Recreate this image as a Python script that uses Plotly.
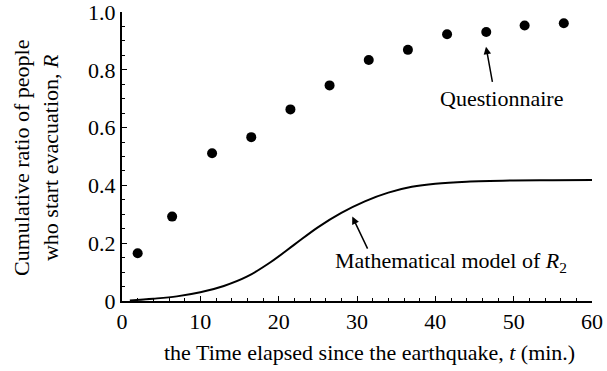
import plotly.graph_objects as go

# Questionnaire data (time in min, cumulative ratio)
q_t = [2.0, 6.4, 11.5, 16.5, 21.5, 26.5, 31.5, 36.5, 41.5, 46.5, 51.4, 56.4]
q_r = [0.165, 0.292, 0.511, 0.567, 0.663, 0.746, 0.834, 0.869, 0.923, 0.931, 0.953, 0.961]

# Mathematical model of R2
m_t = [1, 4, 7, 10, 13, 16, 19, 22, 25, 28, 31, 34, 37, 40, 44, 50, 55, 60]
m_r = [0.002, 0.008, 0.016, 0.030, 0.052, 0.085, 0.135, 0.195, 0.255, 0.305,
       0.345, 0.375, 0.395, 0.406, 0.413, 0.417, 0.418, 0.419]

x_ticks = [0, 10, 20, 30, 40, 50, 60]
y_ticks = [0, 0.2, 0.4, 0.6, 0.8, 1.0]
y_ticktext = ["0", "0.2", "0.4", "0.6", "0.8", "1.0"]

FONT = "Liberation Serif"
FS = 22
BLACK = "#000000"

fig = go.Figure()
fig.add_trace(go.Scatter(x=m_t, y=m_r, mode="lines", line=dict(color=BLACK, width=2, shape="spline"),
                         showlegend=False, hoverinfo="skip"))
fig.add_trace(go.Scatter(x=q_t, y=q_r, mode="markers", marker=dict(color=BLACK, size=10),
                         showlegend=False, cliponaxis=False))

fig.update_layout(
    template="none",
    width=607, height=371,
    margin=dict(l=122, r=15, t=12, b=70),
    paper_bgcolor="white", plot_bgcolor="white",
    font=dict(family=FONT, size=FS, color=BLACK),
    xaxis=dict(range=[0, 60], tickvals=x_ticks, ticks="inside", ticklen=5, tickwidth=1, tickcolor=BLACK,
               showline=True, linecolor=BLACK, linewidth=2, showgrid=False, zeroline=False,
               ticklabeloverflow="allow",
               minor=dict(dtick=2, ticks="inside", ticklen=3, tickcolor=BLACK, tickwidth=1, showgrid=False),
               tickfont=dict(family=FONT, size=FS, color=BLACK)),
    yaxis=dict(range=[0, 1.0], tickvals=y_ticks, ticktext=y_ticktext, ticks="inside", ticklen=5, tickwidth=1,
               tickcolor=BLACK, showline=True, linecolor=BLACK, linewidth=2, showgrid=False, zeroline=False,
               ticklabeloverflow="allow",
               minor=dict(dtick=0.05, ticks="inside", ticklen=3, tickcolor=BLACK, tickwidth=1, showgrid=False),
               tickfont=dict(family=FONT, size=FS, color=BLACK)),
    annotations=[
        dict(x=46.47, y=0.88, ax=47.32, ay=0.753, xref="x", yref="y", axref="x", ayref="y",
             showarrow=True, arrowhead=2, arrowsize=1, arrowwidth=1.5, arrowcolor=BLACK, text=""),
        dict(x=48.4, y=0.702, xref="x", yref="y", text="Questionnaire", showarrow=False,
             xanchor="center", yanchor="middle", font=dict(family=FONT, size=FS, color=BLACK)),
        dict(x=29.4, y=0.292, ax=31.44, ay=0.176, xref="x", yref="y", axref="x", ayref="y",
             showarrow=True, arrowhead=2, arrowsize=1, arrowwidth=1.5, arrowcolor=BLACK, text=""),
        dict(x=42.0, y=0.135, xref="x", yref="y", text="Mathematical model of <i>R</i><sub>2</sub>",
             showarrow=False, xanchor="center", yanchor="middle", font=dict(family=FONT, size=FS, color=BLACK)),
        dict(x=(36 - 122) / 470, y=(371 - 70 - 158) / 289, xref="paper", yref="paper",
             text="Cumulative ratio of people<br>who start evacuation, <i>R</i>", textangle=-90,
             xanchor="center", yanchor="middle",
             showarrow=False, font=dict(family=FONT, size=FS, color=BLACK)),
        dict(x=(369 - 122) / 470, y=-(352 - 301) / 289, xref="paper", yref="paper",
             text="the Time elapsed since the earthquake, <i>t</i> (min.)", showarrow=False,
             xanchor="center", yanchor="middle", font=dict(family=FONT, size=FS, color=BLACK)),
    ],
)

fig.write_html("out.html")
